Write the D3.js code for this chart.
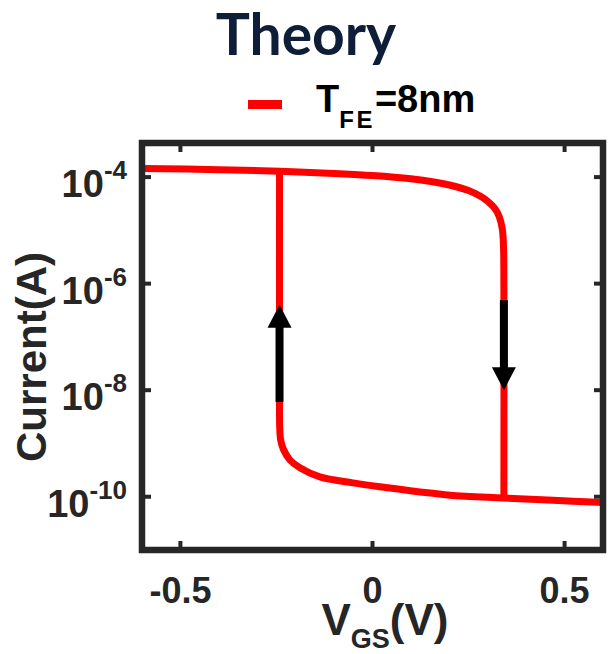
<!DOCTYPE html>
<html>
<head>
<meta charset="utf-8">
<script src="https://cdn.jsdelivr.net/npm/d3@7"></script>
<style>
  html, body { margin: 0; padding: 0; background: #fff; }
  svg { display: block; }
</style>
</head>
<body>
<svg id="chart" width="613" height="654"></svg>
<script>
// ---- data ----
const titleText = "Theory";
const legendLabel = { main: "T", sub: "FE", rest: "=8nm" };
const xTicks = [-0.5, 0, 0.5];
const xTickLabels = ["-0.5", "0", "0.5"];
const yTicks = [1e-4, 1e-6, 1e-8, 1e-10];
const yTickExponents = ["-4", "-6", "-8", "-10"];

// upper branch (forward sweep, V increasing) then jump down
const upperV = [-0.6, -0.4, -0.24, -0.1, 0.0, 0.1, 0.16, 0.2, 0.25, 0.28, 0.30, 0.318, 0.33, 0.338, 0.341, 0.342, 0.342];
const upperI = [1.45e-4, 1.38e-4, 1.29e-4, 1.17e-4, 1.07e-4, 9.3e-5, 8.1e-5, 7.1e-5, 5.6e-5, 4.4e-5, 3.5e-5, 2.6e-5, 1.8e-5, 1.05e-5, 5.0e-6, 1.0e-6, 9.5e-11];

// lower branch (reverse sweep, V decreasing) then jump up
const lowerV = [0.6, 0.47, 0.34, 0.202, 0.124, 0.038, -0.051, -0.137, -0.189, -0.215, -0.232, -0.239, -0.2415, -0.242, -0.242];
const lowerI = [7.8e-11, 8.6e-11, 9.5e-11, 1.07e-10, 1.23e-10, 1.48e-10, 1.82e-10, 2.35e-10, 3.5e-10, 4.9e-10, 7.8e-10, 1.15e-9, 2.0e-9, 1.0e-8, 1.29e-4];

// sweep direction arrows
const arrowV = [-0.242, 0.342];
const arrowFrom = [6.0e-9, 4.9e-7];
const arrowTo = [4.0e-7, 1.0e-8];

// ---- layout ----
const svg = d3.select("#chart");
const pLeft = 142, pRight = 603, pTop = 143, pBottom = 550;
const x = d3.scaleLinear().domain([-0.6, 0.6]).range([pLeft, pRight]);
const y = d3.scaleLog().domain([1e-11, Math.pow(10, -3.36)]).range([pBottom, pTop]);

const red = "#ff0000";
const axisColor = "#262626";
const fontAx = "'Liberation Sans', Arial, sans-serif";

// title
svg.append("text")
  .attr("x", 306).attr("y", 55)
  .attr("text-anchor", "middle")
  .attr("font-family", "Lato, 'Open Sans', sans-serif")
  .attr("font-weight", 700)
  .attr("font-size", 57)
  .attr("fill", "#0e1d38")
  .text(titleText);

// legend
svg.append("line")
  .attr("x1", 248).attr("x2", 282)
  .attr("y1", 104.5).attr("y2", 104.5)
  .attr("stroke", red).attr("stroke-width", 9);
const lt = svg.append("text")
  .attr("x", 316).attr("y", 112)
  .attr("font-family", fontAx).attr("font-weight", 700)
  .attr("font-size", 38).attr("fill", "#000");
lt.append("tspan").text(legendLabel.main);
lt.append("tspan").attr("dy", 16).attr("font-size", 24).attr("letter-spacing", 2.5).text(legendLabel.sub);
lt.append("tspan").attr("dy", -16).text(legendLabel.rest);

// curves
const line = d3.line()
  .x(d => x(d[0])).y(d => y(d[1]))
  .curve(d3.curveCatmullRom.alpha(0.5));

const upper = upperV.map((v, i) => [v, upperI[i]]);
const lower = lowerV.map((v, i) => [v, lowerI[i]]);

const g = svg.append("g");
g.append("path").datum(upper).attr("d", line)
  .attr("fill", "none").attr("stroke", red).attr("stroke-width", 7)
  .attr("stroke-linejoin", "round");
g.append("path").datum(lower).attr("d", line)
  .attr("fill", "none").attr("stroke", red).attr("stroke-width", 7)
  .attr("stroke-linejoin", "round");

// arrows
const headLen = 23, headHalf = 12, shaftW = 8;
arrowV.forEach((v, i) => {
  const ax = x(v);
  const y0 = y(arrowFrom[i]);
  const y1 = y(arrowTo[i]);
  const dir = y1 < y0 ? -1 : 1;
  const yb = y1 - dir * headLen;
  g.append("line")
    .attr("x1", ax).attr("x2", ax)
    .attr("y1", y0).attr("y2", yb + dir * 1)
    .attr("stroke", "#000").attr("stroke-width", shaftW);
  g.append("path")
    .attr("d", `M${ax - headHalf},${yb} L${ax + headHalf},${yb} L${ax},${y1} Z`)
    .attr("fill", "#000");
});

// frame
svg.append("rect")
  .attr("x", pLeft).attr("y", pTop)
  .attr("width", pRight - pLeft).attr("height", pBottom - pTop)
  .attr("fill", "none").attr("stroke", axisColor).attr("stroke-width", 6.5);

// ticks (inward, mirrored)
const tl = 9;
xTicks.forEach(t => {
  const px = x(t);
  svg.append("line").attr("x1", px).attr("x2", px).attr("y1", pBottom).attr("y2", pBottom - tl)
    .attr("stroke", axisColor).attr("stroke-width", 4);
  svg.append("line").attr("x1", px).attr("x2", px).attr("y1", pTop).attr("y2", pTop + tl)
    .attr("stroke", axisColor).attr("stroke-width", 4);
});
yTicks.forEach(t => {
  const py = y(t);
  svg.append("line").attr("x1", pLeft).attr("x2", pLeft + tl).attr("y1", py).attr("y2", py)
    .attr("stroke", axisColor).attr("stroke-width", 4);
  svg.append("line").attr("x1", pRight).attr("x2", pRight - tl).attr("y1", py).attr("y2", py)
    .attr("stroke", axisColor).attr("stroke-width", 4);
});

// x tick labels
xTicks.forEach((t, i) => {
  svg.append("text")
    .attr("x", x(t)).attr("y", 603)
    .attr("text-anchor", "middle")
    .attr("font-family", fontAx).attr("font-weight", 700)
    .attr("font-size", 36).attr("fill", axisColor)
    .text(xTickLabels[i]);
});

// y tick labels
yTicks.forEach((t, i) => {
  const tx = svg.append("text")
    .attr("x", 127).attr("y", y(t) + 20)
    .attr("text-anchor", "end")
    .attr("font-family", fontAx).attr("font-weight", 700)
    .attr("font-size", 38).attr("fill", axisColor);
  tx.append("tspan").text("10");
  tx.append("tspan").attr("dy", -18).attr("font-size", 26).text(yTickExponents[i]);
});

// x axis label
const xl = svg.append("text")
  .attr("x", 385).attr("y", 635)
  .attr("text-anchor", "middle")
  .attr("font-family", fontAx).attr("font-weight", 700)
  .attr("font-size", 44).attr("fill", axisColor);
xl.append("tspan").text("V");
xl.append("tspan").attr("dy", 13).attr("font-size", 27).text("GS");
xl.append("tspan").attr("dy", -13).text("(V)");

// y axis label
svg.append("text")
  .attr("transform", "translate(46,357) rotate(-90)")
  .attr("text-anchor", "middle")
  .attr("font-family", fontAx).attr("font-weight", 700)
  .attr("font-size", 42).attr("fill", axisColor)
  .text("Current(A)");
</script>
</body>
</html>
